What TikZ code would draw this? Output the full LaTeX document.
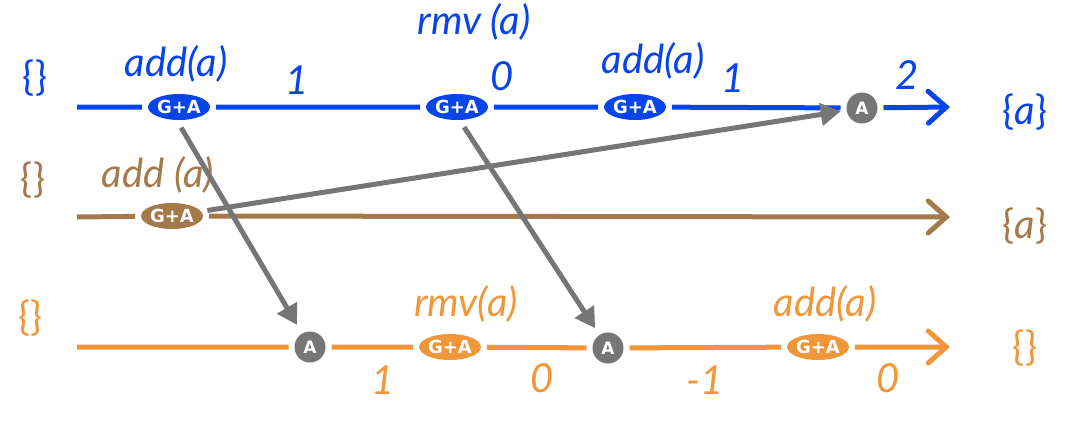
\documentclass[tikz,border=0pt]{standalone}
\usepackage{fontspec}
\setmainfont{Lato}
\newfontfamily\tagfont{DejaVu Sans}
\usetikzlibrary{arrows.meta,calc,shapes.geometric}
\definecolor{cblue}{RGB}{8,68,235}
\definecolor{cbrown}{RGB}{165,122,74}
\definecolor{corange}{RGB}{241,151,58}
\definecolor{cgray}{RGB}{118,118,118}
\newcommand{\LB}{{\upshape\{}}
\newcommand{\RB}{{\upshape\}}}
\begin{document}
\begin{tikzpicture}[x=1pt,y=-1pt,
  lbl/.style={font=\fontsize{40}{40}\selectfont\itshape},
  ga/.style={ellipse, minimum width=58pt, minimum height=26pt, inner sep=0pt, text=white,
     font=\tagfont\bfseries\fontsize{18}{18}\selectfont, outer sep=6pt},
  anode/.style={circle, fill=cgray, minimum size=31pt, inner sep=0pt, text=white,
     font=\tagfont\bfseries\fontsize{17}{17}\selectfont, outer sep=6pt},
  tline/.style={line width=5pt, -{Straight Barb[length=18pt,width=32pt,line width=5pt,line cap=round]}},
  garrow/.style={line width=5pt, cgray, -{Triangle[length=20pt,width=22pt]}}
]
\fill[white] (0,0) rectangle (1080,445);
\useasboundingbox (0,0) rectangle (1080,445);

% ---- blue replica
\coordinate (bs) at (77,107);
\coordinate (be) at (950,107);
\node[ga, fill=cblue] (bn1) at (179,107) {G+A};
\node[ga, fill=cblue] (bn2) at (457,107) {G+A};
\node[ga, fill=cblue] (bn3) at (635,107) {G+A};
\node[anode] (ba) at (862,108) {A};
\draw[tline, cblue] (bs) -- (bn1) -- (bn2) -- (bn3) -- (ba) -- (be);

\node[lbl, text=cblue] (bl0) at (35,78) {\LB\RB};
\node[lbl, text=cblue] (bl1) at (176,64) {add(a)};
\node[lbl, text=cblue] (bl2) at (297,80) {1};
\node[lbl, text=cblue] (bl3) at (474,22) {rmv (a)};
\node[lbl, text=cblue] (bl4) at (502,76) {0};
\node[lbl, text=cblue] (bl5) at (653,61) {add(a)};
\node[lbl, text=cblue] (bl6) at (733,78) {1};
\node[lbl, text=cblue] (bl7) at (907,75) {2};
\node[lbl, text=cblue] (bl8) at (1025,112) {\LB a\RB};

% ---- brown replica
\coordinate (rs) at (77,217);
\coordinate (re) at (950,217);
\node[ga, fill=cbrown] (rn1) at (172,216) {G+A};
\draw[tline, cbrown] (rs) -- (rn1) -- (re);
\node[lbl, text=cbrown] (rl0) at (33,180) {\LB\RB};
\node[lbl, text=cbrown] (rl1) at (158,175) {add (a)};
\node[lbl, text=cbrown] (rl2) at (1025,226) {\LB a\RB};

% ---- orange replica
\coordinate (os) at (77,347);
\coordinate (oe) at (950,347);
\node[anode] (oa1) at (310,347) {A};
\node[ga, fill=corange] (on1) at (450,347) {G+A};
\node[anode] (oa2) at (608,348) {A};
\node[ga, fill=corange] (on2) at (818,347) {G+A};
\draw[tline, corange] (os) -- (oa1) -- (on1) -- (oa2) -- (on2) -- (oe);
\node[lbl, text=corange] (ol0) at (31,318) {\LB\RB};
\node[lbl, text=corange] (ol1) at (466,304) {rmv(a)};
\node[lbl, text=corange] (ol2) at (825,304) {add(a)};
\node[lbl, text=corange] (ol3) at (383,380) {1};
\node[lbl, text=corange] (ol4) at (542,378) {0};
\node[lbl, text=corange] (ol5) at (705,380) {-1};
\node[lbl, text=corange] (ol6) at (888,378) {0};
\node[lbl, text=corange] (ol7) at (1025,348) {\LB\RB};

% ---- messages
\draw[garrow, shorten <=24pt, shorten >=4pt] ($(bn1)+(-10,0)$) -- (oa1);
\draw[garrow, shorten <=24pt, shorten >=2pt] ($(bn2)+(-6,0)$) -- (oa2);
\draw[garrow] (rn1) -- (ba);
\end{tikzpicture}
\end{document}
